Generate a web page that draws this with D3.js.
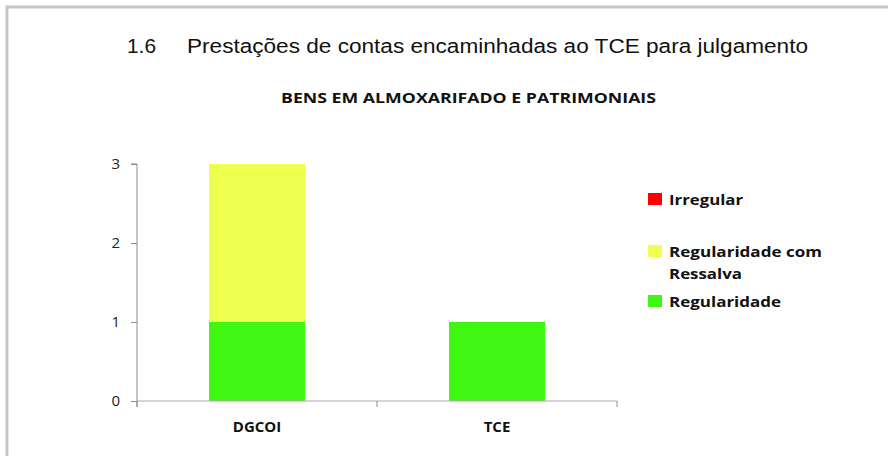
<!DOCTYPE html>
<html>
<head>
<meta charset="utf-8">
<script src="https://cdn.jsdelivr.net/npm/d3@7"></script>
<style>
  body { margin: 0; background: #fff; }
  svg { display: block; }
</style>
</head>
<body>
<svg id="chart"></svg>
<script>
const categories = ["DGCOI", "TCE"];
const seriesNames = ["Regularidade", "Regularidade com Ressalva", "Irregular"];
const regularidade = [1, 1];
const comRessalva = [2, 0];
const irregular = [0, 0];
const yTicks = [0, 1, 2, 3];
const colors = ["#40f713", "#eeff50", "#ff0000"];

const W = 888, H = 456;
const svg = d3.select("#chart").attr("width", W).attr("height", H);

// moldura cinza
svg.append("path")
  .attr("d", `M7,${H} V7 H${W}`)
  .attr("fill", "none")
  .attr("stroke", "#c6c6c6")
  .attr("stroke-width", 3);

svg.append("text")
  .attr("x", 127).attr("y", 53)
  .attr("font-family", "Liberation Sans, Arial, sans-serif")
  .attr("font-size", 20).attr("fill", "#111")
  .attr("textLength", 29).attr("lengthAdjust", "spacingAndGlyphs")
  .text("1.6");
svg.append("text")
  .attr("x", 187).attr("y", 53)
  .attr("font-family", "Liberation Sans, Arial, sans-serif")
  .attr("font-size", 20).attr("fill", "#111")
  .attr("textLength", 621).attr("lengthAdjust", "spacingAndGlyphs")
  .text("Prestações de contas encaminhadas ao TCE para julgamento");

svg.append("text")
  .attr("x", 468.5).attr("y", 103)
  .attr("text-anchor", "middle")
  .attr("font-family", "Open Sans, sans-serif")
  .attr("font-weight", "bold")
  .attr("font-size", 14).attr("fill", "#111")
  .attr("textLength", 375).attr("lengthAdjust", "spacingAndGlyphs")
  .text("BENS EM ALMOXARIFADO E PATRIMONIAIS");

const plot = { left: 137, right: 617, top: 164, bottom: 401 };

const x = d3.scaleBand().domain(categories).range([plot.left, plot.right]).paddingInner(0).paddingOuter(0);
const y = d3.scaleLinear().domain([0, 3]).range([plot.bottom, plot.top]);

const table = categories.map((c, i) => ({
  cat: c,
  "Regularidade": regularidade[i],
  "Regularidade com Ressalva": comRessalva[i],
  "Irregular": irregular[i]
}));
const stacked = d3.stack().keys(seriesNames)(table);

const barW = x.bandwidth() * 0.4;
svg.append("g").selectAll("g")
  .data(stacked)
  .join("g")
  .attr("fill", (d, i) => colors[i])
  .selectAll("rect")
  .data(d => d)
  .join("rect")
  .attr("x", d => x(d.data.cat) + (x.bandwidth() - barW) / 2)
  .attr("y", d => y(d[1]))
  .attr("width", barW)
  .attr("height", d => y(d[0]) - y(d[1]));

// eixo y
const yAxis = svg.append("g")
  .attr("transform", `translate(${plot.left},0)`)
  .call(d3.axisLeft(y).tickValues(yTicks).tickSize(6).tickPadding(11).tickFormat(d3.format("d")));
yAxis.select(".domain").attr("stroke", "#8c8c8c").attr("d", `M-6,${plot.top}H0V${plot.bottom + 6}`);
yAxis.selectAll(".tick line").attr("stroke", "#8c8c8c");
yAxis.selectAll(".tick text")
  .attr("font-family", "Open Sans, sans-serif")
  .attr("font-size", 15).attr("fill", "#222");

// eixo x
const xAxis = svg.append("g")
  .attr("transform", `translate(0,${plot.bottom})`)
  .call(d3.axisBottom(x).tickSize(0).tickPadding(20));
xAxis.select(".domain").attr("stroke", "#aaa").attr("d", `M${plot.left},0H${plot.right}`);
xAxis.selectAll(".tick text")
  .attr("font-family", "Open Sans, sans-serif")
  .attr("font-weight", "bold")
  .attr("font-size", 15).attr("fill", "#111");
const bounds = [x.range()[0]].concat(categories.map(c => x(c) + x.bandwidth()));
xAxis.selectAll(".sep").data(bounds).join("line")
  .attr("x1", d => d).attr("x2", d => d)
  .attr("y1", 0).attr("y2", 6)
  .attr("stroke", "#8c8c8c");

// legenda
const legend = [
  { name: "Irregular", color: colors[2], lines: ["Irregular"], widths: [74], y: 193 },
  { name: "Regularidade com Ressalva", color: colors[1], lines: ["Regularidade com", "Ressalva"], widths: [153, 73], y: 245 },
  { name: "Regularidade", color: colors[0], lines: ["Regularidade"], widths: [112], y: 295 }
];
const lg = svg.append("g").selectAll("g").data(legend).join("g");
lg.append("rect")
  .attr("x", 648).attr("y", d => d.y)
  .attr("width", 14).attr("height", 12)
  .attr("fill", d => d.color);
lg.each(function (d) {
  d.lines.forEach((line, i) => {
    d3.select(this).append("text")
      .attr("x", 669).attr("y", d.y + 12 + i * 22)
      .attr("font-family", "Open Sans, sans-serif")
      .attr("font-weight", "bold")
      .attr("font-size", 15).attr("fill", "#111")
      .attr("textLength", d.widths[i]).attr("lengthAdjust", "spacingAndGlyphs")
      .text(line);
  });
});
</script>
</body>
</html>
